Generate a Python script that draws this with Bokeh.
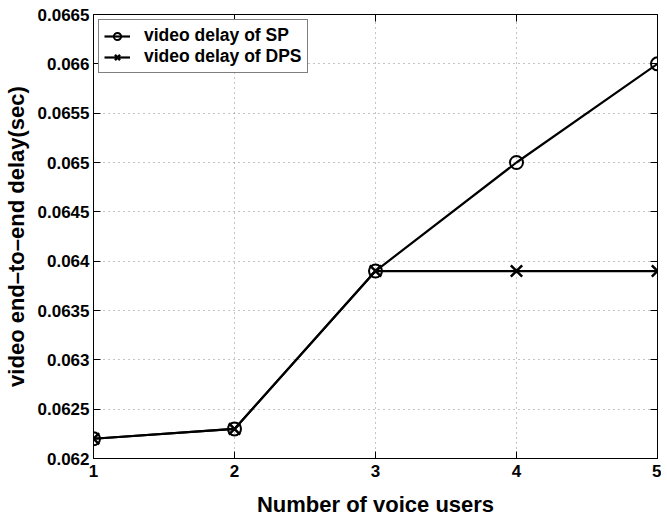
from bokeh.plotting import figure
from bokeh.models import LinearAxis, FixedTicker, Legend, LegendItem, Range1d
from bokeh.embed import file_html
from bokeh.resources import INLINE

# ---- data ----
voice_users = [1, 2, 3, 4, 5]
delay_sp = [0.0622, 0.0623, 0.0639, 0.0650, 0.0660]
delay_dps = [0.0622, 0.0623, 0.0639, 0.0639, 0.0639]
x_ticks = [1, 2, 3, 4, 5]
y_ticks = [0.062, 0.0625, 0.063, 0.0635, 0.064, 0.0645, 0.065, 0.0655, 0.066, 0.0665]
y_tick_labels = ["0.062", "0.0625", "0.063", "0.0635", "0.064", "0.0645",
                 "0.065", "0.0655", "0.066", "0.0665"]
series_names = ["video delay of SP", "video delay of DPS"]

FONT = "Liberation Sans"

p = figure(frame_width=564, frame_height=444, output_backend="svg",
           toolbar_location=None, x_range=Range1d(1, 5),
           y_range=Range1d(0.062, 0.0665),
           min_border_left=93, min_border_right=4, min_border_top=14,
           min_border_bottom=52)
p.background_fill_color = "white"
p.border_fill_color = "white"
p.outline_line_color = "black"

# grid
for g in (p.xgrid, p.ygrid):
    g.grid_line_color = "#8a8a8a"
    g.grid_line_dash = "1 4"
    g.grid_line_width = 1
p.xgrid.ticker = FixedTicker(ticks=x_ticks)
p.ygrid.ticker = FixedTicker(ticks=y_ticks)

# main axes
xa = p.xaxis[0]
ya = p.yaxis[0]
xa.ticker = FixedTicker(ticks=x_ticks)
ya.ticker = FixedTicker(ticks=y_ticks)
ya.major_label_overrides = {t: l for t, l in zip(y_ticks, y_tick_labels)}
xa.axis_label = "Number of voice users"
ya.axis_label = "video end\u2013to\u2013end delay(sec)"
for ax in (xa, ya):
    ax.major_tick_in = 7
    ax.major_tick_out = 0
    ax.minor_tick_line_color = None
    ax.axis_line_color = "black"
    ax.major_tick_line_color = "black"
    ax.major_label_text_font = FONT
    ax.major_label_text_font_style = "bold"
    ax.major_label_text_font_size = "17px"
    ax.major_label_text_color = "black"
    ax.axis_label_text_font = FONT
    ax.axis_label_text_font_style = "bold"
    ax.axis_label_text_font_size = "22px"
    ax.axis_label_text_color = "black"
xa.major_label_standoff = 6
xa.axis_label_standoff = 12
ya.major_label_standoff = 4
ya.axis_label_standoff = 6

# box axes (top / right)
for loc, ticks in (("right", y_ticks), ("above", x_ticks)):
    ax = LinearAxis(ticker=FixedTicker(ticks=ticks))
    ax.major_tick_in = 7
    ax.major_tick_out = 0
    ax.minor_tick_line_color = None
    ax.major_label_text_font_size = "0px"
    ax.major_label_text_color = None
    ax.axis_line_color = "black"
    p.add_layout(ax, loc)

# series
l1 = p.line(voice_users, delay_sp, line_color="black", line_width=2.2)
m1 = p.scatter(voice_users, delay_sp, marker="circle", size=13,
               fill_color=None, line_color="black", line_width=2)
l2 = p.line(voice_users, delay_dps, line_color="black", line_width=2.2)
m2 = p.scatter(voice_users, delay_dps, marker="x", size=16,
               line_color="black", line_width=2.5)

legend = Legend(items=[LegendItem(label=series_names[0], renderers=[l1, m1]),
                       LegendItem(label=series_names[1], renderers=[l2, m2])],
                location="top_left")
legend.label_text_font = FONT
legend.label_text_font_style = "bold"
legend.label_text_font_size = "17.5px"
legend.label_text_color = "black"
legend.border_line_color = "black"
legend.border_line_width = 1.2
legend.background_fill_alpha = 1
legend.padding = 5
legend.margin = 5
legend.spacing = 0
legend.glyph_width = 26
legend.glyph_height = 18
legend.label_height = 18
legend.label_standoff = 14
p.add_layout(legend)

open("out.html", "w").write(file_html(p, INLINE))
